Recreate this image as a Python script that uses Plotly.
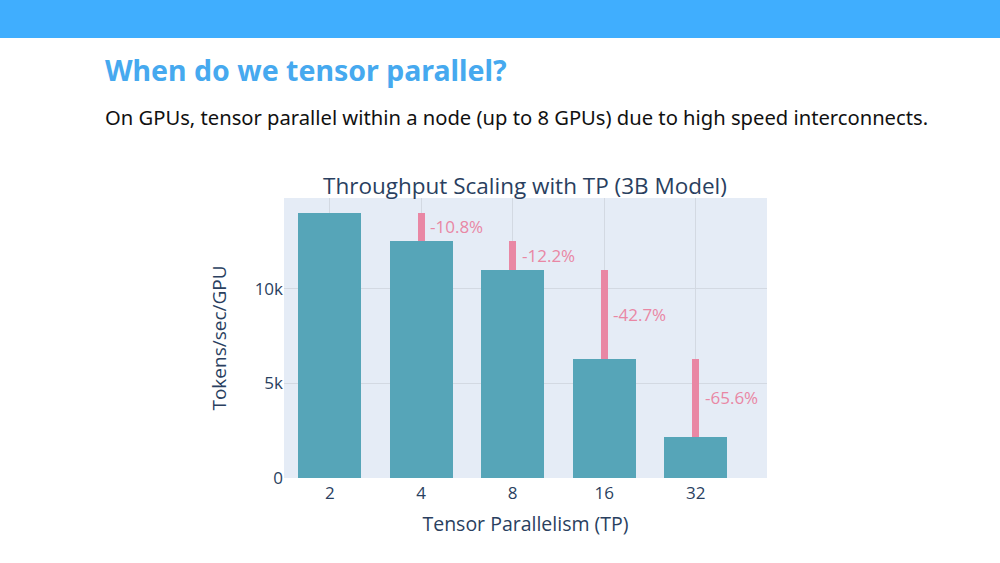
import plotly.graph_objects as go

categories = ["2", "4", "8", "16", "32"]
throughput = [14010, 12497, 10972, 6287, 2163]
drop_labels = ["-10.8%", "-12.2%", "-42.7%", "-65.6%"]

W, H = 1000, 563
def px_x(v):
    return v / W
def px_y(v):
    return 1 - v / H

TEAL = "#56a5b8"
PINK = "#e987a4"
FONT = "Open Sans"
SLIDE_FONT = "Noto Sans"

pos = list(range(len(categories)))

fig = go.Figure()
fig.add_trace(go.Bar(
    x=pos, y=throughput, width=0.69,
    marker=dict(color=TEAL, line=dict(width=0)),
    showlegend=False, hoverinfo="skip",
))

drop_x = pos[1:]
drop_base = throughput[1:]
drop_len = [throughput[i] - throughput[i + 1] for i in range(len(throughput) - 1)]
fig.add_trace(go.Bar(
    x=drop_x, y=drop_len, base=drop_base, width=0.073,
    marker=dict(color=PINK, line=dict(width=0)),
    showlegend=False, hoverinfo="skip",
))

annotations = []
for cx, lab, b, ln in zip(drop_x, drop_labels, drop_base, drop_len):
    annotations.append(dict(
        x=cx, y=b + ln / 2, xref="x", yref="y", text=lab, showarrow=False,
        xanchor="left", yanchor="middle", xshift=7,
        font=dict(family=FONT, size=17, color=PINK),
    ))

annotations += [
    dict(x=px_x(103), y=px_y(70), xref="paper", yref="paper", xanchor="left", yanchor="middle",
         text="<b>When do we tensor parallel?</b>", showarrow=False,
         font=dict(family=SLIDE_FONT, size=28.5, color="#46a9ef")),
    dict(x=px_x(103), y=px_y(117), xref="paper", yref="paper", xanchor="left", yanchor="middle",
         text="On GPUs, tensor parallel within a node (up to 8 GPUs) due to high speed interconnects.",
         showarrow=False, font=dict(family=SLIDE_FONT, size=20.2, color="#111111")),
    dict(x=px_x(525), y=px_y(185), xref="paper", yref="paper", xanchor="center", yanchor="middle",
         text="Throughput Scaling with TP (3B Model)", showarrow=False,
         font=dict(family=FONT, size=22.5, color="#2a3f5f")),
]

fig.update_layout(
    width=W, height=H, autosize=False,
    margin=dict(l=0, r=0, t=0, b=0),
    paper_bgcolor="white",
    plot_bgcolor="#e5ecf6",
    barmode="overlay",
    bargap=0,
    font=dict(family=FONT, color="#2a3f5f"),
    shapes=[dict(type="rect", xref="paper", yref="paper", x0=0, x1=1,
                 y0=px_y(38), y1=1, fillcolor="#40aefe", line=dict(width=0), layer="below")],
    annotations=annotations,
    xaxis=dict(
        domain=[px_x(284), px_x(767)], automargin=False,
        range=[-0.5, 4.78],
        tickvals=pos, ticktext=categories,
        showgrid=True, gridcolor="#d3d9e2", gridwidth=1,
        tickfont=dict(size=17, color="#2a3f5f"),
        ticklabelstandoff=3,
        title=dict(text="Tensor Parallelism (TP)", font=dict(size=19.5, color="#2a3f5f"), standoff=14),
        zeroline=False, ticks="",
    ),
    yaxis=dict(
        domain=[px_y(478), px_y(198)], automargin=False,
        range=[0, 14784],
        tickvals=[0, 5000, 10000], ticktext=["0", "5k", "10k"],
        showgrid=True, gridcolor="#d3d9e2", gridwidth=1,
        tickfont=dict(size=17, color="#2a3f5f"),
        title=dict(text="Tokens/sec/GPU", font=dict(size=19, color="#2a3f5f"), standoff=22),
        zeroline=False, ticks="",
    ),
)

fig.write_html(
    "out.html",
    config={"responsive": False, "displayModeBar": False},
    post_script="document.body.style.margin='0';document.body.style.overflow='hidden';",
)
